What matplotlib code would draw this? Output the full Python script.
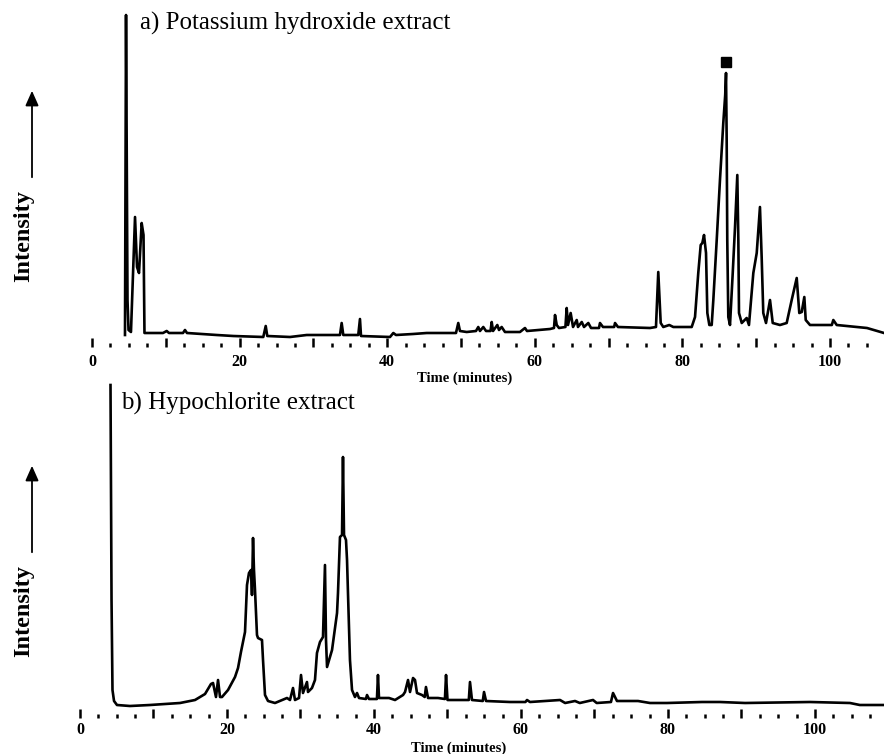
import matplotlib
matplotlib.use("Agg")
import matplotlib.pyplot as plt
from matplotlib.patches import FancyArrowPatch
from matplotlib.ticker import FixedLocator, FixedFormatter

plt.rcParams["font.family"] = ["Liberation Serif", "DejaVu Serif"]

# trace a) Potassium hydroxide extract (time in minutes, intensity in arbitrary units)
koh_time = [4.47, 4.61, 4.81, 4.95, 5.28, 5.83, 6.10, 6.37, 6.73, 6.98, 7.11, 7.41,
            9.62, 10.12, 10.43, 12.33, 12.60, 12.87, 16.9, 19.15, 23.21, 23.54, 23.75,
            26.83, 29.09, 30.45, 33.60, 33.83, 34.05, 36.08, 36.31, 36.45, 40.38, 40.83,
            41.19, 43.50, 45.35, 48.06, 49.32, 49.63, 49.86, 50.77, 52.03, 52.34, 52.57,
            53.02, 53.39, 54.00, 54.16, 54.34, 54.92, 55.15, 55.51, 55.96, 57.99, 58.67, 58.94,
            62.06, 62.60, 62.74, 62.97, 63.28, 64.15, 64.32, 64.50, 64.86, 65.18, 65.68, 65.85,
            66.36, 66.67, 67.25, 67.62, 68.70, 68.83, 69.24, 70.75, 70.87, 71.27, 75.61, 76.42,
            76.73, 77.06, 77.41, 78.22, 78.77, 81.26, 81.71, 82.15, 82.48, 82.70, 82.93, 83.20,
            83.38, 83.65, 83.97, 84.19, 84.65, 85.09, 85.54, 85.80, 85.91, 86.00, 86.08, 86.22,
            86.45, 86.82, 87.13, 87.44, 87.58, 87.67, 88.04, 88.71, 89.02, 89.61, 90.07, 90.51,
            90.74, 90.96, 91.33, 91.87, 92.24, 93.22, 94.13, 94.81, 95.49, 95.84, 96.17, 96.52,
            96.71, 97.29, 98.64, 100.25, 100.45, 100.91, 105.01, 107.32]
koh_intensity = [0, 320, 35, 5, 3, 118, 68, 62, 112, 100, 2, 2,
                 2, 4, 2, 2, 5, 2, 0, -1, -2, 9, -1,
                 -2, 0, 0, 0, 12, 0, 0, 16, -1, -2, 2,
                 0, 1, 2, 2, 2, 12, 4, 3, 4, 8, 4,
                 8, 4, 4, 13, 4, 10, 5, 8, 3, 3, 7, 4,
                 6, 7, 20, 10, 7, 8, 27, 10, 22, 8, 15, 8,
                 13, 8, 12, 7, 7, 12, 8, 8, 12, 8, 7, 8,
                 63, 12, 8, 10, 8, 8, 18, 62, 90, 92, 100, 82,
                 22, 10, 10, 35, 95, 155, 212, 240, 262, 195, 95, 18,
                 10, 62, 108, 160, 95, 22, 12, 17, 10, 62, 82, 128,
                 78, 22, 12, 35, 12, 10, 12, 35, 57, 22, 23, 38,
                 15, 10, 10, 10, 15, 10, 7, 2]
koh_marker_time = [85.9]
koh_marker_intensity = [273]

# trace b) Hypochlorite extract
ocl_time = [4.15, 4.29, 4.42, 4.63, 5.03, 6.80, 9.52, 13.61, 15.65, 17.01, 17.82, 18.10,
            18.50, 18.78, 19.05, 19.32, 20.14, 21.09, 21.50, 21.90, 22.45, 22.72, 22.99,
            23.27, 23.40, 23.54, 23.67, 23.81, 24.08, 24.22, 24.76, 24.90, 25.17, 25.58,
            26.53, 28.16, 28.57, 28.98, 29.25, 29.80, 30.07, 30.34, 30.88, 31.02, 31.56,
            31.97, 32.24, 32.65, 33.06, 33.33, 33.47, 33.61, 34.29, 34.97, 35.10, 35.37,
            35.65, 35.78, 35.92, 36.19, 36.33, 36.46, 36.73, 37.01, 37.41, 37.69, 37.96,
            38.90, 39.05, 39.32, 40.40, 40.54, 40.68, 42.04, 42.86, 43.95, 44.22, 44.63,
            44.90, 45.31, 45.58, 45.85, 46.53, 46.90, 47.07, 47.35, 48.71, 49.65, 49.80,
            50.0, 51.70, 52.90, 53.06, 53.33, 54.80, 54.97, 55.24, 58.50, 60.60, 60.82,
            61.22, 65.31, 66.0, 67.35, 68.0, 69.80, 70.3, 72.24, 72.52, 73.06, 75.92,
            77.55, 79.86, 84.63, 87.07, 90.48, 99.32, 104.76, 106.1, 109.4]
ocl_intensity = [320, 105, 15, 4, 0, -1, 0, 2, 5, 11, 21, 22,
                 8, 25, 8, 8, 15, 28, 37, 53, 73, 120, 132,
                 135, 110, 167, 135, 115, 70, 67, 65, 45, 10, 4,
                 2, 7, 5, 17, 5, 7, 30, 12, 23, 13, 17,
                 25, 52, 63, 68, 140, 65, 38, 55, 92, 112, 168,
                 170, 248, 170, 165, 145, 112, 45, 15, 8, 12, 7,
                 6, 10, 6, 6, 30, 7, 7, 5, 10, 13, 25,
                 13, 27, 25, 12, 10, 8, 18, 7, 7, 6, 30,
                 5, 5, 5, 23, 5, 4, 13, 4, 3, 3, 5,
                 3, 5, 2, 4, 2, 5, 2, 3, 12, 4, 4,
                 2, 2, 3, 3, 2, 3, 2, 0, 0]

major_ticks = [0, 10, 20, 30, 40, 50, 60, 70, 80, 90, 100]
tick_labels = ["0", "", "20", "", "40", "", "60", "", "80", "", "100"]
minor_ticks = [t * 2.5 for t in range(0, 44)]

W, H = 884, 754
fig = plt.figure(figsize=(W / 100, H / 100), dpi=100)


def add_panel(top_px, bottom_px, x_zero_px, px_per_min, ymax, ymin, label_pad):
    left_px = 60
    ax = fig.add_axes([left_px / W, 1 - bottom_px / H, (W - left_px) / W, (bottom_px - top_px) / H])
    ax.set_xlim((left_px - x_zero_px) / px_per_min, (W - x_zero_px) / px_per_min)
    ax.set_ylim(ymin, ymax)
    for s in ax.spines.values():
        s.set_visible(False)
    ax.set_yticks([])
    ax.xaxis.set_major_locator(FixedLocator(major_ticks))
    ax.xaxis.set_major_formatter(FixedFormatter(tick_labels))
    ax.xaxis.set_minor_locator(FixedLocator(minor_ticks))
    ax.tick_params(axis="x", which="major", direction="in", length=6.5, width=1.8,
                   pad=label_pad, labelsize=11.5, color="black")
    ax.tick_params(axis="x", which="minor", direction="in", length=3, width=1.8, color="black")
    for lab in ax.get_xticklabels():
        lab.set_fontweight("bold")
    ax.patch.set_alpha(0)
    return ax


ax1 = add_panel(13, 347, 92, 7.38, 322, -12, 5)
ax1.plot(koh_time, koh_intensity, color="black", lw=1.9)
ax1.plot(koh_marker_time, koh_marker_intensity, marker="s", ms=6.5, color="black", ls="none")

ax2 = add_panel(383, 718, 80, 7.35, 322, -13, 3)
ax2.plot(ocl_time, ocl_intensity, color="black", lw=1.9)

fig.text(140 / W, 1 - 23 / H, "a) Potassium hydroxide extract", fontsize=18, va="center", ha="left")
fig.text(121 / W, 1 - 403 / H, "b) Hypochlorite extract", fontsize=18, va="center", ha="left")

fig.text(465 / W, 1 - 378 / H, "Time (minutes)", fontsize=10.5, fontweight="bold", ha="center", va="center")
fig.text(459 / W, 1 - 748 / H, "Time (minutes)", fontsize=10.5, fontweight="bold", ha="center", va="center")

for shift in [0, 375]:
    fig.text(24 / W, 1 - (236 + shift) / H, "Intensity", rotation=90, fontsize=17.5,
             fontweight="bold", ha="center", va="center")
    fig.add_artist(FancyArrowPatch(
        (32 / W, 1 - (180 + shift) / H), (32 / W, 1 - (88 + shift) / H),
        transform=fig.transFigure, arrowstyle="-|>,head_length=9,head_width=4",
        color="black", lw=1.3))

fig.savefig("out.png", dpi=100)
